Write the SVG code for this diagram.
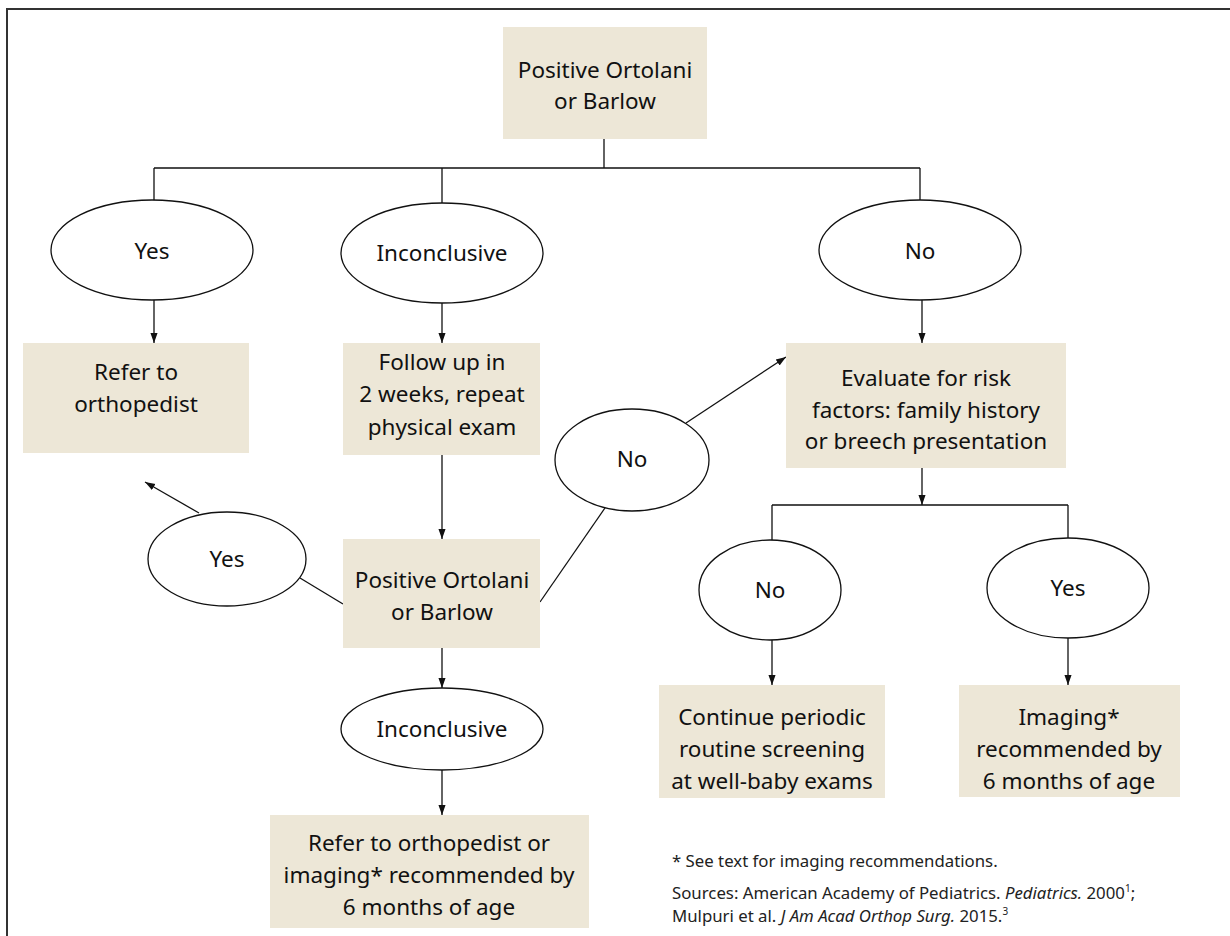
<svg xmlns="http://www.w3.org/2000/svg" width="1230" height="936" viewBox="0 0 1230 936">
<style>
.box{fill:#ede7d7}
.ell{fill:#fff;stroke:#111;stroke-width:1.3}
.t{font-family:"Noto Sans","Open Sans","Liberation Sans",sans-serif;font-size:22.5px;fill:#111;text-anchor:middle}
.f{font-family:"Noto Sans","Open Sans","Liberation Sans",sans-serif;font-size:16.8px;fill:#222}
.c{fill:none;stroke:#111;stroke-width:1.3}
</style>
<defs>
<marker id="ah" markerWidth="10" markerHeight="14" refX="14" refY="5" orient="auto" markerUnits="userSpaceOnUse" viewBox="0 0 14 10">
<path d="M0,0 L14,5 L0,10 Z" fill="#111"/>
</marker>
</defs>
<rect width="1230" height="936" fill="#fff"/>
<path d="M7,940 V9 H1235" fill="none" stroke="#333" stroke-width="2"/>

<g id="connectors">
<path class="c" d="M604,139 V168 M154,168 H920 M154,168 V200 M442,168 V203 M920,168 V200"/>
<path class="c" d="M154,300 V343" marker-end="url(#ah)"/>
<path class="c" d="M442,303 V343" marker-end="url(#ah)"/>
<path class="c" d="M922,300 V343" marker-end="url(#ah)"/>
<path class="c" d="M442,455 V539" marker-end="url(#ah)"/>
<path class="c" d="M343,604 L300,578"/>
<path class="c" d="M199,513 L145,482" marker-end="url(#ah)"/>
<path class="c" d="M540,602 L605,508"/>
<path class="c" d="M686,423 L786,357" marker-end="url(#ah)"/>
<path class="c" d="M442,648 V688" marker-end="url(#ah)"/>
<path class="c" d="M442,770 V815" marker-end="url(#ah)"/>
<path class="c" d="M922,468 V505" marker-end="url(#ah)"/>
<path class="c" d="M772,505 H1068 M772,505 V540 M1068,505 V538"/>
<path class="c" d="M772,640 V685" marker-end="url(#ah)"/>
<path class="c" d="M1068,638 V685" marker-end="url(#ah)"/>
</g>

<g id="start">
<rect class="box" x="503" y="27" width="204" height="112"/>
<text class="t" x="605" y="78">Positive Ortolani</text>
<text class="t" x="605" y="109">or Barlow</text>
</g>
<g id="yes1">
<ellipse class="ell" cx="152" cy="250" rx="101" ry="50"/>
<text class="t" x="152" y="259">Yes</text>
</g>
<g id="inconclusive1">
<ellipse class="ell" cx="442" cy="253" rx="101" ry="50"/>
<text class="t" x="442" y="261">Inconclusive</text>
</g>
<g id="no1">
<ellipse class="ell" cx="920" cy="250" rx="101" ry="50"/>
<text class="t" x="920" y="259">No</text>
</g>
<g id="refer">
<rect class="box" x="23" y="343" width="226" height="110"/>
<text class="t" x="136" y="380">Refer to</text>
<text class="t" x="136" y="412">orthopedist</text>
</g>
<g id="followup">
<rect class="box" x="343" y="343" width="197" height="112"/>
<text class="t" x="442" y="370">Follow up in</text>
<text class="t" x="442" y="402">2 weeks, repeat</text>
<text class="t" x="442" y="435">physical exam</text>
</g>
<g id="evaluate">
<rect class="box" x="786" y="343" width="280" height="125"/>
<text class="t" x="926" y="386">Evaluate for risk</text>
<text class="t" x="926" y="418">factors: family history</text>
<text class="t" x="926" y="449">or breech presentation</text>
</g>
<g id="no2">
<ellipse class="ell" cx="632" cy="460" rx="77" ry="51"/>
<text class="t" x="632" y="467">No</text>
</g>
<g id="yes2">
<ellipse class="ell" cx="227" cy="559" rx="79" ry="47"/>
<text class="t" x="227" y="567">Yes</text>
</g>
<g id="positive2">
<rect class="box" x="343" y="539" width="197" height="109"/>
<text class="t" x="442" y="588">Positive Ortolani</text>
<text class="t" x="442" y="620">or Barlow</text>
</g>
<g id="inconclusive2">
<ellipse class="ell" cx="442" cy="729" rx="101" ry="41"/>
<text class="t" x="442" y="737">Inconclusive</text>
</g>
<g id="referimaging">
<rect class="box" x="270" y="815" width="319" height="113"/>
<text class="t" x="429" y="851">Refer to orthopedist or</text>
<text class="t" x="429" y="883">imaging* recommended by</text>
<text class="t" x="429" y="915">6 months of age</text>
</g>
<g id="no3">
<ellipse class="ell" cx="770" cy="590" rx="71" ry="50"/>
<text class="t" x="770" y="598">No</text>
</g>
<g id="yes3">
<ellipse class="ell" cx="1068" cy="588" rx="81" ry="50"/>
<text class="t" x="1068" y="596">Yes</text>
</g>
<g id="continue">
<rect class="box" x="659" y="685" width="226" height="113"/>
<text class="t" x="772" y="725">Continue periodic</text>
<text class="t" x="772" y="757">routine screening</text>
<text class="t" x="772" y="789">at well-baby exams</text>
</g>
<g id="imaging">
<rect class="box" x="959" y="685" width="221" height="112"/>
<text class="t" x="1069" y="725">Imaging*</text>
<text class="t" x="1069" y="757">recommended by</text>
<text class="t" x="1069" y="789">6 months of age</text>
</g>
<g id="footnote">
<text class="f" x="672" y="867">* See text for imaging recommendations.</text>
<text class="f" x="672" y="899">Sources: American Academy of Pediatrics. <tspan font-style="italic">Pediatrics.</tspan> 2000<tspan font-size="10" dy="-7">1</tspan><tspan dy="7">;</tspan></text>
<text class="f" x="672" y="922">Mulpuri et al. <tspan font-style="italic">J Am Acad Orthop Surg.</tspan> 2015.<tspan font-size="10" dy="-7">3</tspan></text>
</g>
</svg>
